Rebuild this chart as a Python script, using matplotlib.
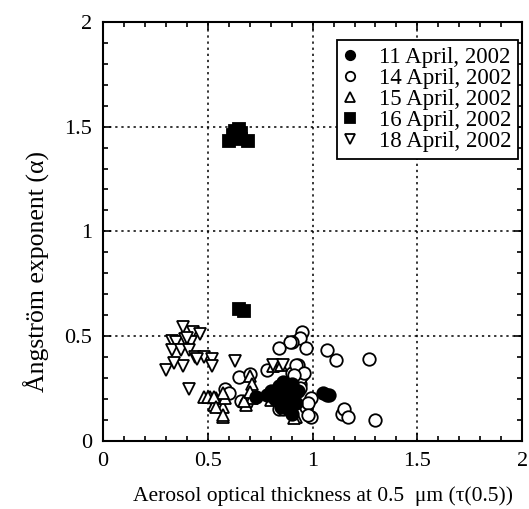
import matplotlib
matplotlib.use("Agg")
import matplotlib.pyplot as plt
from matplotlib.ticker import MultipleLocator

plt.rcParams['font.family'] = ['Liberation Serif', 'DejaVu Serif']

# 11 April, 2002 (filled circles)
apr11_x = [0.73, 0.78, 0.80, 0.82, 0.83, 0.84, 0.85, 0.85, 0.86, 0.87, 0.88, 0.88,
           0.89, 0.90, 0.90, 0.91, 0.92, 0.93, 1.05, 1.07, 1.08]
apr11_y = [0.21, 0.22, 0.24, 0.20, 0.21, 0.26, 0.22, 0.16, 0.28, 0.18, 0.24, 0.15,
           0.20, 0.27, 0.13, 0.22, 0.18, 0.24, 0.23, 0.22, 0.22]

# 14 April, 2002 (open circles)
apr14_x = [0.95, 0.94, 0.90, 0.89, 0.84, 0.97, 1.07, 1.11, 1.27, 0.78, 0.83, 0.93,
           0.90, 0.95, 0.94, 0.99, 0.97, 0.84, 0.99, 1.14, 1.15, 1.17, 1.30, 0.65,
           0.70, 0.58, 0.60, 0.66, 0.82, 0.92, 0.94, 0.96, 0.91, 0.98, 0.98, 0.86,
           0.68, 0.94]
apr14_y = [0.52, 0.49, 0.47, 0.47, 0.445, 0.445, 0.435, 0.385, 0.39, 0.34, 0.36, 0.36,
           0.325, 0.315, 0.27, 0.205, 0.16, 0.15, 0.115, 0.13, 0.15, 0.115, 0.10, 0.305,
           0.32, 0.245, 0.23, 0.19, 0.20, 0.36, 0.30, 0.325, 0.315, 0.18, 0.125, 0.15,
           0.18, 0.25]

# 15 April, 2002 (open up-triangles)
apr15_x = [0.48, 0.51, 0.54, 0.53, 0.57, 0.57, 0.58, 0.57, 0.50, 0.53, 0.54, 0.57,
           0.70, 0.71, 0.71, 0.68, 0.67, 0.80, 0.92, 0.91, 0.81, 0.85, 0.70]
apr15_y = [0.21, 0.21, 0.205, 0.17, 0.16, 0.115, 0.205, 0.23, 0.21, 0.21, 0.16, 0.125,
           0.31, 0.27, 0.205, 0.17, 0.19, 0.195, 0.115, 0.11, 0.355, 0.36, 0.235]

# 16 April, 2002 (filled squares)
apr16_x = [0.60, 0.62, 0.63, 0.65, 0.66, 0.66, 0.69, 0.65, 0.67]
apr16_y = [1.43, 1.46, 1.48, 1.49, 1.47, 1.44, 1.43, 0.63, 0.62]

# 18 April, 2002 (open down-triangles)
apr18_x = [0.38, 0.43, 0.46, 0.33, 0.35, 0.39, 0.42, 0.33, 0.37, 0.41, 0.44, 0.48,
           0.52, 0.52, 0.38, 0.30, 0.34, 0.63, 0.41, 0.81, 0.86, 0.40, 0.45]
apr18_y = [0.545, 0.52, 0.51, 0.475, 0.47, 0.485, 0.47, 0.435, 0.435, 0.435, 0.40, 0.40,
           0.39, 0.355, 0.355, 0.34, 0.37, 0.38, 0.245, 0.36, 0.36, 0.49, 0.39]

fig = plt.figure(figsize=(5.29, 5.09), dpi=100)
ax = fig.add_axes([0.195, 0.134, 0.792, 0.823])

ms = 9
mew = 1.3
ax.plot(apr11_x, apr11_y, 'o', ms=ms, mfc='black', mec='black', mew=mew, label='11 April, 2002', zorder=3)
ax.plot(apr14_x, apr14_y, 'o', ms=ms, mfc='white', mec='black', mew=mew, label='14 April, 2002', zorder=2)
ax.plot(apr15_x, apr15_y, '^', ms=ms, mfc='white', mec='black', mew=mew, label='15 April, 2002', zorder=2)
ax.plot(apr16_x, apr16_y, 's', ms=ms, mfc='black', mec='black', mew=mew, label='16 April, 2002', zorder=3)
ax.plot(apr18_x, apr18_y, 'v', ms=ms, mfc='white', mec='black', mew=mew, label='18 April, 2002', zorder=2)

ax.set_xlim(0, 2)
ax.set_ylim(0, 2)
ax.xaxis.set_minor_locator(MultipleLocator(0.1))
ax.yaxis.set_minor_locator(MultipleLocator(0.1))
ax.set_xticks([0, 0.5, 1, 1.5, 2])
ax.set_xticklabels(['0', '0.5', '1', '1.5', '2'])
ax.set_yticks([0, 0.5, 1, 1.5, 2])
ax.set_yticklabels(['0', '0.5', '1', '1.5', '2'])
ax.tick_params(which='both', direction='in', top=True, right=True, width=1.2)
ax.tick_params(which='major', length=6, labelsize=16)
ax.tick_params(axis='x', which='major', pad=8)
ax.tick_params(axis='y', which='major', pad=8)
ax.tick_params(which='minor', length=3.5)
for s in ax.spines.values():
    s.set_linewidth(1.5)
ax.grid(True, which='major', color='black', linestyle=(0, (1.5, 2.5)), linewidth=1.1)
ax.set_axisbelow(True)

ax.set_xlabel('Aerosol optical thickness at 0.5  μm (τ(0.5))', fontsize=15.5)
ax.xaxis.set_label_coords(0.525, -0.132)
ax.xaxis.label.set_verticalalignment('center')
ax.set_ylabel('Ångström exponent (α)', fontsize=18.5)
ax.yaxis.set_label_coords(-0.158, 0.403)
ax.yaxis.label.set_verticalalignment('center')
ax.yaxis.label.set_horizontalalignment('center')

leg = ax.legend(loc='upper right', fontsize=16.5, frameon=True, fancybox=False,
                edgecolor='black', handletextpad=1.0, borderpad=0.3,
                labelspacing=0.0, handlelength=0.5, markerscale=0.75,
                bbox_to_anchor=(0.99, 0.957), borderaxespad=0)
leg.get_frame().set_linewidth(1.3)
leg.get_frame().set_alpha(1)

fig.savefig('out.png', dpi=100)
